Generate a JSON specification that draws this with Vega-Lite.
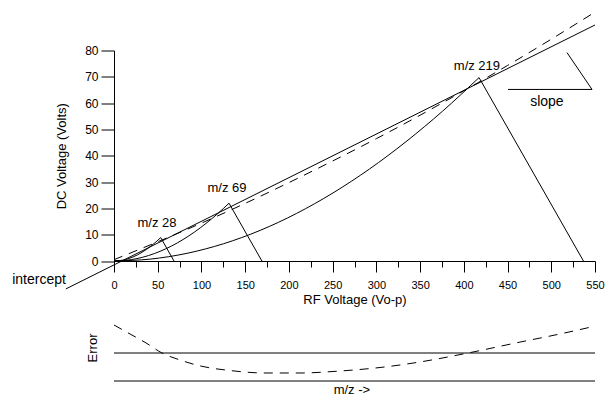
{
  "$schema": "https://vega.github.io/schema/vega-lite/v6.json",
  "autosize": "none",
  "width": 481,
  "height": 210.5,
  "padding": {"left": 114, "top": 50.5, "right": 11, "bottom": 135},
  "background": "white",
  "config": {
    "font": "Liberation Sans",
    "view": {"stroke": null},
    "axis": {
      "grid": false,
      "domainColor": "#000",
      "tickColor": "#000",
      "labelColor": "#000",
      "titleColor": "#000",
      "labelFont": "Liberation Sans",
      "titleFont": "Liberation Sans",
      "titleFontWeight": "normal",
      "labelFontSize": 12,
      "titleFontSize": 13
    }
  },
  "datasets": {
    "lines": [
      {"s": "operating", "i": 0, "x": -55, "y": -10.6},
      {"s": "operating", "i": 1, "x": 550, "y": 89.7},
      {"s": "ideal", "i": 0, "x": 0, "y": 0.5},
      {"s": "ideal", "i": 1, "x": 50, "y": 7.3},
      {"s": "ideal", "i": 2, "x": 100, "y": 14.4},
      {"s": "ideal", "i": 3, "x": 150, "y": 21.9},
      {"s": "ideal", "i": 4, "x": 200, "y": 29.8},
      {"s": "ideal", "i": 5, "x": 250, "y": 38.0},
      {"s": "ideal", "i": 6, "x": 300, "y": 46.5},
      {"s": "ideal", "i": 7, "x": 350, "y": 55.4},
      {"s": "ideal", "i": 8, "x": 400, "y": 64.7},
      {"s": "ideal", "i": 9, "x": 450, "y": 74.3},
      {"s": "ideal", "i": 10, "x": 500, "y": 84.3},
      {"s": "ideal", "i": 11, "x": 550, "y": 94.6},
      {"s": "mz28 left", "i": 0, "x": 0, "y": 0},
      {"s": "mz28 left", "i": 1, "x": 5.3, "y": 0.09},
      {"s": "mz28 left", "i": 2, "x": 10.7, "y": 0.37},
      {"s": "mz28 left", "i": 3, "x": 16.0, "y": 0.84},
      {"s": "mz28 left", "i": 4, "x": 21.4, "y": 1.49},
      {"s": "mz28 left", "i": 5, "x": 26.7, "y": 2.31},
      {"s": "mz28 left", "i": 6, "x": 32.0, "y": 3.31},
      {"s": "mz28 left", "i": 7, "x": 37.4, "y": 4.47},
      {"s": "mz28 left", "i": 8, "x": 42.7, "y": 5.8},
      {"s": "mz28 left", "i": 9, "x": 48.1, "y": 7.28},
      {"s": "mz28 left", "i": 10, "x": 53.4, "y": 8.91},
      {"s": "mz28 right", "i": 0, "x": 53.4, "y": 8.91},
      {"s": "mz28 right", "i": 1, "x": 68.6, "y": 0},
      {"s": "mz69 left", "i": 0, "x": 0, "y": 0},
      {"s": "mz69 left", "i": 1, "x": 13.2, "y": 0.23},
      {"s": "mz69 left", "i": 2, "x": 26.3, "y": 0.92},
      {"s": "mz69 left", "i": 3, "x": 39.5, "y": 2.07},
      {"s": "mz69 left", "i": 4, "x": 52.6, "y": 3.66},
      {"s": "mz69 left", "i": 5, "x": 65.8, "y": 5.69},
      {"s": "mz69 left", "i": 6, "x": 78.9, "y": 8.15},
      {"s": "mz69 left", "i": 7, "x": 92.1, "y": 11.02},
      {"s": "mz69 left", "i": 8, "x": 105.2, "y": 14.29},
      {"s": "mz69 left", "i": 9, "x": 118.4, "y": 17.94},
      {"s": "mz69 left", "i": 10, "x": 131.5, "y": 21.96},
      {"s": "mz69 right", "i": 0, "x": 131.5, "y": 21.96},
      {"s": "mz69 right", "i": 1, "x": 169.1, "y": 0},
      {"s": "mz219 left", "i": 0, "x": 0, "y": 0},
      {"s": "mz219 left", "i": 1, "x": 41.7, "y": 0.73},
      {"s": "mz219 left", "i": 2, "x": 83.5, "y": 2.92},
      {"s": "mz219 left", "i": 3, "x": 125.2, "y": 6.56},
      {"s": "mz219 left", "i": 4, "x": 167.0, "y": 11.62},
      {"s": "mz219 left", "i": 5, "x": 208.7, "y": 18.07},
      {"s": "mz219 left", "i": 6, "x": 250.4, "y": 25.87},
      {"s": "mz219 left", "i": 7, "x": 292.2, "y": 34.98},
      {"s": "mz219 left", "i": 8, "x": 333.9, "y": 45.35},
      {"s": "mz219 left", "i": 9, "x": 354.8, "y": 51.0},
      {"s": "mz219 left", "i": 10, "x": 375.7, "y": 56.94},
      {"s": "mz219 left", "i": 11, "x": 396.5, "y": 63.18},
      {"s": "mz219 left", "i": 12, "x": 417.4, "y": 69.7},
      {"s": "mz219 right", "i": 0, "x": 417.4, "y": 69.7},
      {"s": "mz219 right", "i": 1, "x": 536.8, "y": 0},
      {"s": "slope diagonal", "i": 0, "x": 518, "y": 79.2},
      {"s": "slope diagonal", "i": 1, "x": 546.6, "y": 65.2},
      {"s": "slope base", "i": 0, "x": 450.5, "y": 65.2},
      {"s": "slope base", "i": 1, "x": 546.6, "y": 65.2}
    ],
    "labels": [
      {"t": "m/z 28", "x": 49.2, "y": 14.4},
      {"t": "m/z 69", "x": 129.2, "y": 27.7},
      {"t": "m/z 219", "x": 415, "y": 74.1}
    ],
    "notes": [
      {"t": "slope", "x": 495, "y": 60.4}
    ],
    "intercept": [
      {"t": "intercept", "x": -55, "y": -7.2}
    ],
    "error": [
      {"s": "upper", "i": 0, "x": 0, "e": 0},
      {"s": "upper", "i": 1, "x": 550, "e": 0},
      {"s": "lower", "i": 0, "x": 0, "e": -1},
      {"s": "lower", "i": 1, "x": 550, "e": -1},
      {"s": "err", "i": 0, "x": 0, "e": 1.0},
      {"s": "err", "i": 1, "x": 18.3, "e": 0.68},
      {"s": "err", "i": 2, "x": 36.6, "e": 0.36},
      {"s": "err", "i": 3, "x": 54.9, "e": 0},
      {"s": "err", "i": 4, "x": 75.5, "e": -0.25},
      {"s": "err", "i": 5, "x": 98.3, "e": -0.46},
      {"s": "err", "i": 6, "x": 132.6, "e": -0.625},
      {"s": "err", "i": 7, "x": 172.7, "e": -0.714},
      {"s": "err", "i": 8, "x": 212.7, "e": -0.714},
      {"s": "err", "i": 9, "x": 258.4, "e": -0.643},
      {"s": "err", "i": 10, "x": 304.2, "e": -0.518},
      {"s": "err", "i": 11, "x": 349.9, "e": -0.32},
      {"s": "err", "i": 12, "x": 404.8, "e": 0},
      {"s": "err", "i": 13, "x": 464.3, "e": 0.39},
      {"s": "err", "i": 14, "x": 510, "e": 0.68},
      {"s": "err", "i": 15, "x": 550, "e": 0.96}
    ],
    "errlabels": [
      {"t": "m/z ->", "x": 272, "e": -1.32}
    ],
    "errtitle": [
      {"t": "Error", "x": -24, "e": 0.18}
    ]
  },
  "layer": [
    {
      "encoding": {
        "x": {
          "field": "x",
          "type": "quantitative",
          "scale": {"domain": [0, 550], "nice": false, "zero": false},
          "axis": {
            "values": [0, 25, 50, 75, 100, 125, 150, 175, 200, 225, 250, 275, 300, 325, 350, 375, 400, 425, 450, 475, 500, 525, 550],
            "tickSize": {"condition": {"test": "datum.value % 50 === 0", "value": 11}, "value": 6},
            "labelExpr": "datum.value % 50 === 0 ? datum.label : ''",
            "labelOverlap": false,
            "labelFlush": false,
            "labelFontSize": 11,
            "labelPadding": 7,
            "title": "RF Voltage (Vo-p)",
            "titlePadding": 3
          }
        },
        "y": {
          "field": "y",
          "type": "quantitative",
          "scale": {"domain": [0, 80], "nice": false, "zero": false},
          "axis": {
            "values": [0, 10, 20, 30, 40, 50, 60, 70, 80],
            "tickSize": 13,
            "labelPadding": 3,
            "title": "DC Voltage (Volts)",
            "titlePadding": 16
          }
        }
      },
      "layer": [
        {
          "data": {"name": "lines"},
          "transform": [{"filter": "datum.s !== 'ideal'"}],
          "mark": {"type": "line", "color": "#000", "strokeWidth": 1, "interpolate": "monotone", "clip": false},
          "encoding": {
            "detail": {"field": "s"},
            "order": {"field": "i", "type": "quantitative"}
          }
        },
        {
          "data": {"name": "lines"},
          "transform": [{"filter": "datum.s === 'ideal'"}],
          "mark": {"type": "line", "color": "#000", "strokeWidth": 1, "strokeDash": [9, 7], "interpolate": "monotone", "clip": false},
          "encoding": {
            "order": {"field": "i", "type": "quantitative"}
          }
        },
        {
          "data": {"name": "labels"},
          "mark": {"type": "text", "fontSize": 13, "color": "#000", "align": "center", "baseline": "middle", "clip": false},
          "encoding": {"text": {"field": "t"}}
        },
        {
          "data": {"name": "notes"},
          "mark": {"type": "text", "fontSize": 14, "color": "#000", "align": "center", "baseline": "middle", "clip": false},
          "encoding": {"text": {"field": "t"}}
        },
        {
          "data": {"name": "intercept"},
          "mark": {"type": "text", "fontSize": 14, "color": "#000", "align": "right", "baseline": "middle", "clip": false},
          "encoding": {"text": {"field": "t"}}
        }
      ]
    },
    {
      "encoding": {
        "x": {
          "field": "x",
          "type": "quantitative",
          "scale": {"domain": [0, 550], "nice": false, "zero": false},
          "axis": null
        },
        "y": {
          "field": "e",
          "type": "quantitative",
          "scale": {"domain": [3.286, 10.804], "nice": false, "zero": false},
          "axis": null
        }
      },
      "layer": [
        {
          "data": {"name": "error"},
          "transform": [{"filter": "datum.s !== 'err'"}],
          "mark": {"type": "line", "color": "#000", "strokeWidth": 1, "clip": false},
          "encoding": {
            "detail": {"field": "s"},
            "order": {"field": "i", "type": "quantitative"}
          }
        },
        {
          "data": {"name": "error"},
          "transform": [{"filter": "datum.s === 'err'"}],
          "mark": {"type": "line", "color": "#000", "strokeWidth": 1, "strokeDash": [9, 7], "interpolate": "monotone", "clip": false},
          "encoding": {
            "order": {"field": "i", "type": "quantitative"}
          }
        },
        {
          "data": {"name": "errlabels"},
          "mark": {"type": "text", "fontSize": 13, "color": "#000", "align": "center", "baseline": "middle", "clip": false},
          "encoding": {"text": {"field": "t"}}
        },
        {
          "data": {"name": "errtitle"},
          "mark": {"type": "text", "fontSize": 13, "color": "#000", "align": "center", "baseline": "middle", "angle": 270, "clip": false},
          "encoding": {"text": {"field": "t"}}
        }
      ]
    }
  ],
  "resolve": {"scale": {"x": "independent", "y": "independent"}}
}
